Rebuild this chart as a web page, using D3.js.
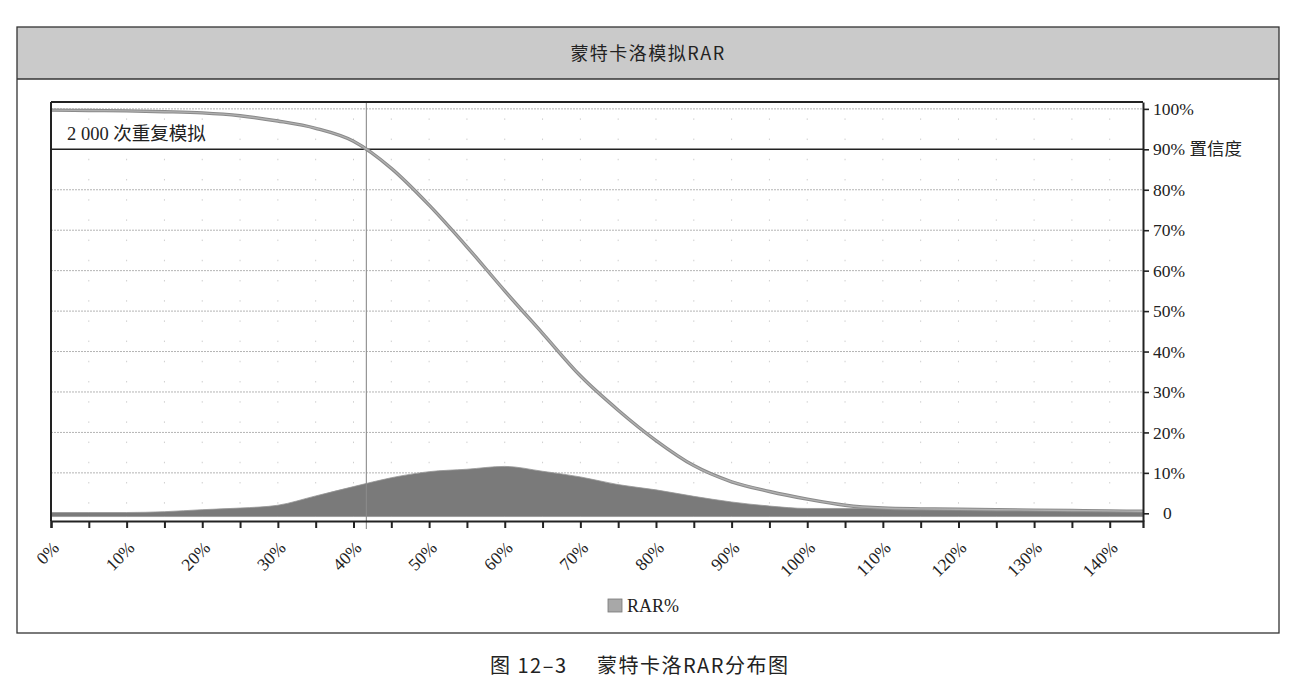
<!DOCTYPE html>
<html>
<head>
<meta charset="utf-8">
<script src="https://cdn.jsdelivr.net/npm/d3@7/dist/d3.min.js"></script>
<style>
  html, body { margin: 0; padding: 0; background: #fff; }
  svg { display: block; }
</style>
</head>
<body>
<svg id="chart" width="1294" height="689"></svg>
<script>
// ---- data ----
const title = "蒙特卡洛模拟RAR";
const caption = ["图 12–3", "蒙特卡洛RAR分布图"];
const noteText = "2 000 次重复模拟";
const legendLabel = "RAR%";
// RAR (%) sample points
const rarPct = [0,5,10,15,20,25,30,35,40,45,50,55,60,65,70,75,80,85,90,95,100,105,110,115,120,125,130,135,140,144.4];
// probability of exceeding (cumulative curve), %
const exceedPct = [99.7,99.6,99.5,99.3,99.0,98.3,97.0,95.2,92.0,85.3,76.2,65.9,55.0,44.5,34.0,25.5,18.0,11.8,7.8,5.4,3.5,2.0,1.3,1.1,1.0,0.9,0.8,0.7,0.6,0.5];
// distribution (frequency), %
const densityPct = [0.2,0.2,0.2,0.4,0.9,1.3,2.0,4.3,6.6,8.8,10.3,10.9,11.6,10.4,9.0,7.1,5.8,4.2,2.8,1.8,1.2,1.2,1.2,1.1,1.0,0.9,0.8,0.7,0.6,0.5];
const confidenceLevel = 90;     // %
const varRar = 41.7;            // RAR at 90% confidence, %
const xLabelTicks = [0,10,20,30,40,50,60,70,80,90,100,110,120,130,140];
const xMinorTicks = [0,5,10,15,20,25,30,35,40,45,50,55,60,65,70,75,80,85,90,95,100,105,110,115,120,125,130,135,140];
const yTicks = [0,10,20,30,40,50,60,70,80,90,100];

// ---- layout ----
const svg = d3.select("#chart");
const plot = {left: 51, top: 102, right: 1143, bottom: 521};
const x = d3.scaleLinear().domain([0, 144.4]).range([plot.left, plot.right]);
const y = d3.scaleLinear().domain([-1.9, 101.7]).range([plot.bottom, plot.top]);
const serif = "'Liberation Serif', 'Times New Roman', 'Noto Sans CJK SC', serif";
const sans = "'Noto Sans CJK SC', 'Noto Sans', sans-serif";

// outer frame and title band
svg.append("rect").attr("x", 17).attr("y", 27).attr("width", 1262).attr("height", 52)
  .attr("fill", "#cacaca");
svg.append("rect").attr("x", 17).attr("y", 27).attr("width", 1262).attr("height", 606)
  .attr("fill", "none").attr("stroke", "#333").attr("stroke-width", 1.3);
svg.append("line").attr("x1", 17).attr("x2", 1279).attr("y1", 79).attr("y2", 79)
  .attr("stroke", "#333").attr("stroke-width", 1.3);
svg.append("text").attr("x", 648).attr("y", 60).attr("text-anchor", "middle")
  .attr("font-family", sans).attr("font-size", 18).attr("fill", "#222")
  .attr("letter-spacing", 1.5).text(title);

// faint dot grid
const g = svg.append("g");
g.selectAll("line.vdot").data(xMinorTicks.slice(1)).join("line")
  .attr("x1", d => x(d)).attr("x2", d => x(d))
  .attr("y1", y(100)).attr("y2", y(0))
  .attr("stroke", "#cfcfcf").attr("stroke-width", 1)
  .attr("stroke-dasharray", "1.5,18.7").attr("stroke-dashoffset", -9.5);

// horizontal gridlines
g.selectAll("line.hgrid").data(yTicks.filter(d => d !== confidenceLevel && d !== 0)).join("line")
  .attr("x1", plot.left).attr("x2", plot.right)
  .attr("y1", d => y(d)).attr("y2", d => y(d))
  .attr("stroke", "#b4b4b4").attr("stroke-width", 1).attr("stroke-dasharray", "2,1");

// density area
const area = d3.area()
  .x((d, i) => x(rarPct[i]))
  .y0(y(-0.8))
  .y1(d => y(d))
  .curve(d3.curveMonotoneX);
g.append("path").datum(densityPct).attr("d", area)
  .attr("fill", "#7a7a7a").attr("stroke", "#959595").attr("stroke-width", 0.8);

// VaR vertical line
g.append("line").attr("x1", x(varRar)).attr("x2", x(varRar))
  .attr("y1", plot.top).attr("y2", plot.bottom + 8)
  .attr("stroke", "#8c8c8c").attr("stroke-width", 1.1);

// confidence line
g.append("line").attr("x1", plot.left).attr("x2", plot.right)
  .attr("y1", y(confidenceLevel)).attr("y2", y(confidenceLevel))
  .attr("stroke", "#222").attr("stroke-width", 1.5);

// cumulative curve
const line = d3.line()
  .x((d, i) => x(rarPct[i]))
  .y(d => y(d))
  .curve(d3.curveMonotoneX);
g.append("path").datum(exceedPct).attr("d", line)
  .attr("fill", "none").attr("stroke", "#8a8a8a").attr("stroke-width", 3.4);
g.append("path").datum(exceedPct).attr("d", line)
  .attr("fill", "none").attr("stroke", "#b0b0b0").attr("stroke-width", 1.4);

// plot border (top & left)
svg.append("line").attr("x1", plot.left).attr("x2", plot.right).attr("y1", plot.top).attr("y2", plot.top)
  .attr("stroke", "#222").attr("stroke-width", 2);
svg.append("line").attr("x1", plot.left).attr("x2", plot.left).attr("y1", plot.top).attr("y2", plot.bottom)
  .attr("stroke", "#222").attr("stroke-width", 2);

// bottom axis
const xAxis = d3.axisBottom(x).tickValues(xMinorTicks).tickSize(7).tickSizeOuter(7).tickFormat("");
const xg = svg.append("g").attr("transform", `translate(0,${plot.bottom})`).call(xAxis);
xg.select(".domain").attr("stroke", "#222").attr("stroke-width", 2.2);
xg.selectAll(".tick line").attr("stroke", "#222").attr("stroke-width", 2);
svg.append("g").selectAll("text").data(xLabelTicks).join("text")
  .attr("transform", d => `translate(${x(d) + 9},${plot.bottom + 28}) rotate(-45)`)
  .attr("text-anchor", "end")
  .attr("font-family", serif).attr("font-size", 17.5).attr("fill", "#222")
  .text(d => d + "%");

// right axis
const yAxis = d3.axisRight(y).tickValues(yTicks).tickSize(6).tickSizeOuter(0)
  .tickFormat(d => d === 0 ? "0" : (d === confidenceLevel ? d + "% 置信度" : d + "%"));
const yg = svg.append("g").attr("transform", `translate(${plot.right},0)`).call(yAxis);
yg.select(".domain").attr("stroke", "#222").attr("stroke-width", 2);
yg.selectAll(".tick line").attr("stroke", "#222").attr("stroke-width", 1.6);
yg.selectAll(".tick text").attr("x", d => d === 0 ? 20 : 10)
  .attr("font-family", serif).attr("font-size", 17.5).attr("fill", "#222");

// note text
svg.append("text").attr("x", 67).attr("y", 140)
  .attr("font-family", serif).attr("font-size", 18.5).attr("fill", "#222").text(noteText);

// legend
svg.append("rect").attr("x", 608).attr("y", 599).attr("width", 14).attr("height", 13)
  .attr("fill", "#a8a8a8").attr("stroke", "#777").attr("stroke-width", 0.8);
svg.append("text").attr("x", 627).attr("y", 612)
  .attr("font-family", serif).attr("font-size", 18).attr("fill", "#222").text(legendLabel);

// caption
svg.append("text").attr("x", 490).attr("y", 673)
  .attr("font-family", sans).attr("font-size", 20).attr("letter-spacing", 1.5)
  .attr("fill", "#222").text(caption[0]);
svg.append("text").attr("x", 597).attr("y", 673)
  .attr("font-family", sans).attr("font-size", 20).attr("letter-spacing", 1.5)
  .attr("fill", "#222").text(caption[1]);
</script>
</body>
</html>
